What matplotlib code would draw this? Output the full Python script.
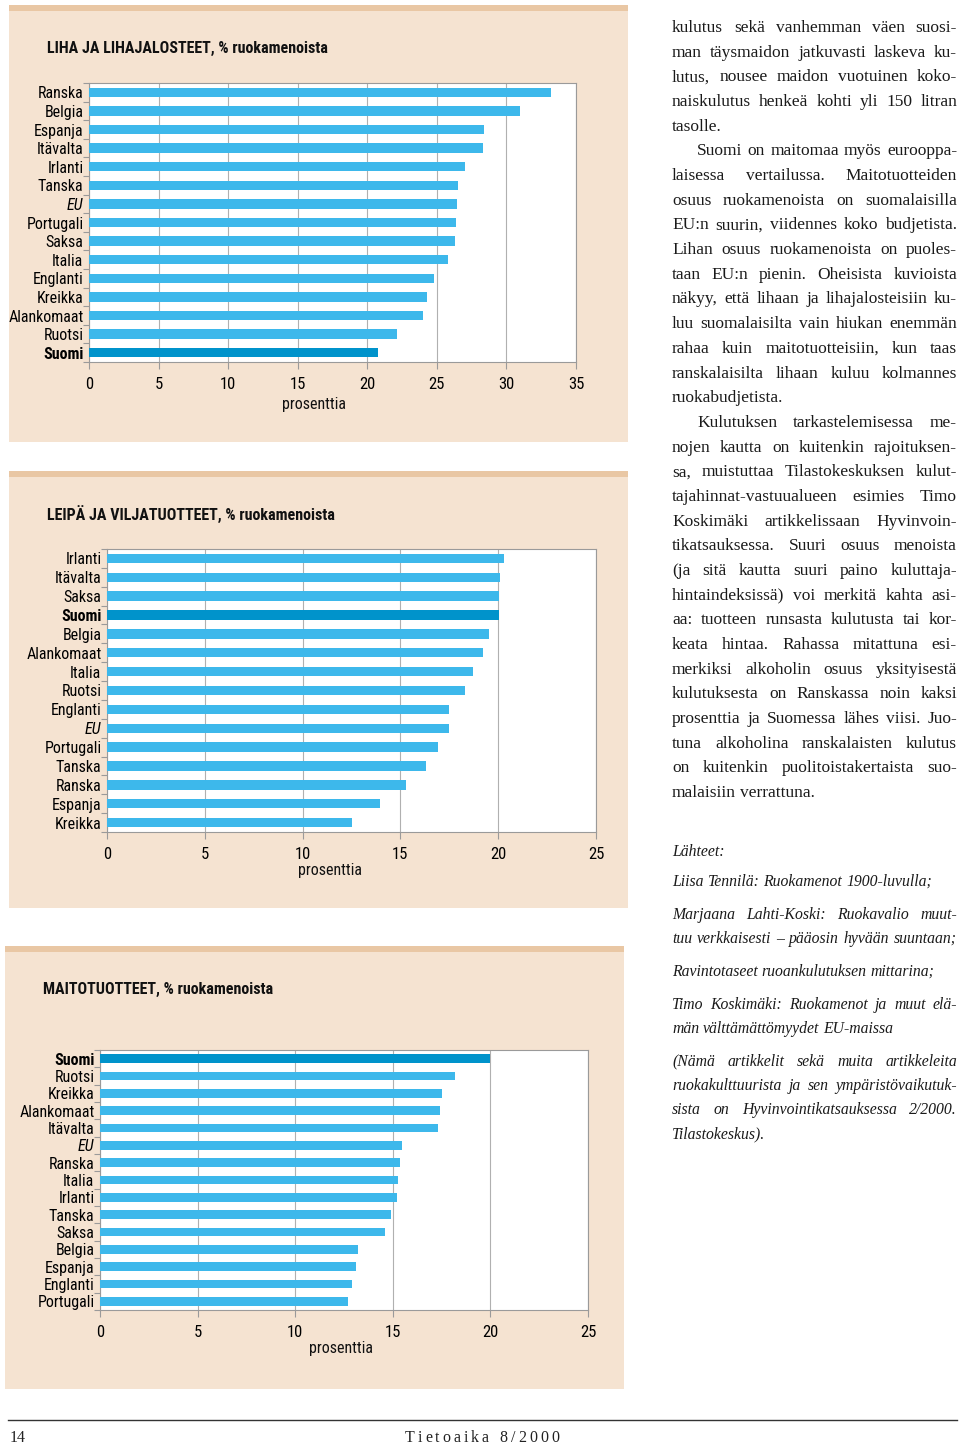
import matplotlib
matplotlib.use('Agg')
import matplotlib.pyplot as plt
from matplotlib.patches import Rectangle
from matplotlib import font_manager as fm
import numpy as np

W, H = 960, 1445
fig = plt.figure(figsize=(9.6, 14.45), dpi=100)
fig.patch.set_facecolor('white')

BG = '#F5E3D1'
STRIPE = '#E9C7A4'
BAR = '#3DB8EB'
FIN = '#0093CB'
SPINE = '#9A9A9A'
SERIF = ['Liberation Serif', 'DejaVu Serif']

# ---------------- data ----------------
meat_countries = ['Ranska', 'Belgia', 'Espanja', 'Itävalta', 'Irlanti', 'Tanska', 'EU',
                  'Portugali', 'Saksa', 'Italia', 'Englanti', 'Kreikka', 'Alankomaat',
                  'Ruotsi', 'Suomi']
meat_values = [33.2, 31.0, 28.4, 28.3, 27.05, 26.5, 26.45, 26.4, 26.3, 25.8, 24.8, 24.3,
               24.0, 22.1, 20.75]

bread_countries = ['Irlanti', 'Itävalta', 'Saksa', 'Suomi', 'Belgia', 'Alankomaat', 'Italia',
                   'Ruotsi', 'Englanti', 'EU', 'Portugali', 'Tanska', 'Ranska', 'Espanja',
                   'Kreikka']
bread_values = [20.3, 20.1, 20.05, 20.05, 19.55, 19.2, 18.7, 18.3, 17.5, 17.5, 16.9, 16.3,
                15.3, 13.95, 12.5]

dairy_countries = ['Suomi', 'Ruotsi', 'Kreikka', 'Alankomaat', 'Itävalta', 'EU', 'Ranska',
                   'Italia', 'Irlanti', 'Tanska', 'Saksa', 'Belgia', 'Espanja', 'Englanti',
                   'Portugali']
dairy_values = [20.0, 18.2, 17.5, 17.4, 17.3, 15.45, 15.35, 15.25, 15.2, 14.9, 14.6, 13.2,
                13.1, 12.9, 12.7]

titles = ['LIHA JA LIHAJALOSTEET, % ruokamenoista',
          'LEIPÄ JA VILJATUOTTEET, % ruokamenoista',
          'MAITOTUOTTEET, % ruokamenoista']
xlabel = 'prosenttia'
xmaxes = [35, 25, 25]

body_lines = [
    ('kulutus sekä vanhemman väen suosi-', False, True),
    ('man täysmaidon jatkuvasti laskeva ku-', False, True),
    ('lutus, nousee maidon vuotuinen koko-', False, True),
    ('naiskulutus henkeä kohti yli 150 litran', False, True),
    ('tasolle.', False, False),
    ('Suomi on maitomaa myös eurooppa-', True, True),
    ('laisessa vertailussa. Maitotuotteiden', False, True),
    ('osuus ruokamenoista on suomalaisilla', False, True),
    ('EU:n suurin, viidennes koko budjetista.', False, True),
    ('Lihan osuus ruokamenoista on puoles-', False, True),
    ('taan EU:n pienin. Oheisista kuvioista', False, True),
    ('näkyy, että lihaan ja lihajalosteisiin ku-', False, True),
    ('luu suomalaisilta vain hiukan enemmän', False, True),
    ('rahaa kuin maitotuotteisiin, kun taas', False, True),
    ('ranskalaisilta lihaan kuluu kolmannes', False, True),
    ('ruokabudjetista.', False, False),
    ('Kulutuksen tarkastelemisessa me-', True, True),
    ('nojen kautta on kuitenkin rajoituksen-', False, True),
    ('sa, muistuttaa Tilastokeskuksen kulut-', False, True),
    ('tajahinnat-vastuualueen esimies Timo', False, True),
    ('Koskimäki artikkelissaan Hyvinvoin-', False, True),
    ('tikatsauksessa. Suuri osuus menoista', False, True),
    ('(ja sitä kautta suuri paino kuluttaja-', False, True),
    ('hintaindeksissä) voi merkitä kahta asi-', False, True),
    ('aa: tuotteen runsasta kulutusta tai kor-', False, True),
    ('keata hintaa. Rahassa mitattuna esi-', False, True),
    ('merkiksi alkoholin osuus yksityisestä', False, True),
    ('kulutuksesta on Ranskassa noin kaksi', False, True),
    ('prosenttia ja Suomessa lähes viisi. Juo-', False, True),
    ('tuna alkoholina ranskalaisten kulutus', False, True),
    ('on kuitenkin puolitoistakertaista suo-', False, True),
    ('malaisiin verrattuna.', False, False),
]

source_lines = [
    ('Lähteet:', 851, False),
    ('Liisa Tennilä: Ruokamenot 1900-luvulla;', 881, False),
    ('Marjaana Lahti-Koski: Ruokavalio muut-', 914, True),
    ('tuu verkkaisesti – pääosin hyvään suuntaan;', 938, True),
    ('Ravintotaseet ruoankulutuksen mittarina;', 971, False),
    ('Timo Koskimäki: Ruokamenot ja muut elä-', 1004, True),
    ('män välttämättömyydet EU-maissa', 1028, False),
    ('(Nämä artikkelit sekä muita artikkeleita', 1061, True),
    ('ruokakulttuurista ja sen ympäristövaikutuk-', 1085, True),
    ('sista on Hyvinvointikatsauksessa 2/2000.', 1109, True),
    ('Tilastokeskus).', 1133, False),
]

# ---------------- font choice for chart text (condensed if available) ----------------
names = {f.name for f in fm.fontManager.ttflist}
cands = ['Liberation Sans Narrow', 'Roboto Condensed', 'Noto Sans Condensed',
         'DejaVu Sans Condensed', 'Open Sans Condensed', 'Arial Narrow']
chosen = next((c for c in cands if c in names), None)
if chosen is None:
    others = sorted(n for n in names if ('Condensed' in n or 'Narrow' in n) and 'CJK' not in n)
    chosen = others[0] if others else None
STRETCH = 'normal'
if chosen is None:
    for f in fm.fontManager.ttflist:
        if f.name in ('Noto Sans', 'DejaVu Sans', 'Open Sans') and str(f.stretch) in ('condensed', 'semi-condensed', '75', '87.5'):
            chosen = f.name
            STRETCH = 'condensed'
            break
if chosen is None:
    chosen = 'Roboto'
    LAB_FS, TITLE_FS, TICK_FS, XL_FS = 10.5, 10.5, 10.5, 10.5
else:
    LAB_FS, TITLE_FS, TICK_FS, XL_FS = 11.5, 11.5, 12, 11.5
NARROW = [chosen, 'DejaVu Sans']

# ---------------- helpers ----------------
def fx(x):
    return x / W

def fy(y):
    return 1 - y / H

def rect(l, t, r, b, color, z=0):
    fig.add_artist(Rectangle((fx(l), fy(b)), (r - l) / W, (b - t) / H,
                             transform=fig.transFigure, facecolor=color,
                             edgecolor='none', zorder=z))

renderer = fig.canvas.get_renderer()

def text_width(s, **kw):
    t = fig.text(0, 0, s, **kw)
    w = t.get_window_extent(renderer).width
    t.remove()
    return w

# ---------------- panels ----------------
panels = [
    dict(c=meat_countries, v=meat_values, panel=(9, 5, 628, 442), axes=(89, 83, 576, 362),
         title_xy=(47, 48), xlabel_xy=(314, 404)),
    dict(c=bread_countries, v=bread_values, panel=(9, 471, 628, 908), axes=(107, 549, 596, 832),
         title_xy=(47, 514), xlabel_xy=(330, 870)),
    dict(c=dairy_countries, v=dairy_values, panel=(5, 946, 624, 1389), axes=(100, 1050, 588, 1310),
         title_xy=(43, 989), xlabel_xy=(341, 1349)),
]

for i, p in enumerate(panels):
    l, t, r, b = p['panel']
    rect(l, t, r, b, BG, 0)
    rect(l, t, r, t + 6, STRIPE, 0)
    al, at, ar, ab = p['axes']
    ax = fig.add_axes([fx(al), fy(ab), (ar - al) / W, (ab - at) / H])
    ax.set_facecolor('white')
    n = len(p['c'])
    y = np.arange(n)
    colors = [FIN if c == 'Suomi' else BAR for c in p['c']]
    ax.barh(y, p['v'], height=0.5, color=colors, zorder=3)
    ax.set_ylim(n - 0.5, -0.5)
    xm = xmaxes[i]
    ax.set_xlim(0, xm)
    ax.set_xticks(np.arange(0, xm + 1, 5))
    ax.xaxis.grid(True, color='#B0B0B0', linewidth=0.8, zorder=0)
    ax.set_axisbelow(True)
    ax.set_yticks(y)
    ax.set_yticklabels(p['c'], family=NARROW, fontsize=LAB_FS, stretch=STRETCH)
    for lab in ax.get_yticklabels():
        if lab.get_text() == 'Suomi':
            lab.set_fontweight('bold')
        if lab.get_text() == 'EU':
            lab.set_fontstyle('italic')
    ax.set_yticks(np.arange(-0.5, n, 1.0), minor=True)
    ax.tick_params(axis='y', which='major', length=0, pad=4)
    ax.tick_params(axis='y', which='minor', length=4, color=SPINE, width=0.8)
    ax.tick_params(axis='x', length=5, color=SPINE, width=0.8, pad=5.5, labelsize=TICK_FS)
    for lab in ax.get_xticklabels():
        lab.set_family(NARROW)
        lab.set_stretch(STRETCH)
    for s in ax.spines.values():
        s.set_color(SPINE)
        s.set_linewidth(0.8)
    fig.text(fx(p['title_xy'][0]), fy(p['title_xy'][1]), titles[i], family=NARROW,
             stretch=STRETCH, fontsize=TITLE_FS, fontweight='bold', ha='left', va='center',
             color='#111111')
    fig.text(fx(p['xlabel_xy'][0]), fy(p['xlabel_xy'][1]), xlabel, family=NARROW,
             stretch=STRETCH, fontsize=XL_FS, ha='center', va='center', color='#111111')

# ---------------- right-hand text ----------------
COL_L, COL_R = 672, 957
def place_line(s, x0, y, justify, **kw):
    words = s.split(' ')
    widths = [text_width(w, **kw) for w in words]
    space = text_width('a a', **kw) - text_width('aa', **kw)
    gap = space
    if justify and len(words) > 1:
        g = (COL_R - x0 - sum(widths)) / (len(words) - 1)
        gap = max(g, space * 0.7)
    x = x0
    for w, wd in zip(words, widths):
        fig.text(fx(x), fy(y), w, ha='left', va='baseline', **kw)
        x += wd + gap

body_kw = dict(family=SERIF, fontsize=12.5, color='#1a1a1a')
y0 = 32
for k, (s, indent, just) in enumerate(body_lines):
    place_line(s, COL_L + (25 if indent else 0), y0 + k * 24.68, just, **body_kw)

src_kw = dict(family=SERIF, fontsize=11.3, style='italic', color='#1a1a1a')
for s, yy, just in source_lines:
    place_line(s, COL_L, yy + 5, just, **src_kw)

# ---------------- footer ----------------
fig.add_artist(plt.Line2D([fx(8), fx(957)], [fy(1420), fy(1420)], transform=fig.transFigure,
                          color='#333333', linewidth=1.0))
fig.text(fx(10), fy(1442), '14', family=SERIF, fontsize=11.5, ha='left', va='baseline',
         color='#222222')
foot = 'Tietoaika 8/2000'
fk = dict(family=SERIF, fontsize=11.5, color='#222222')
cw = [text_width(ch, **fk) if ch != ' ' else 5 for ch in foot]
track = 3.0
total = sum(cw) + track * (len(foot) - 1)
x = 482 - total / 2
for ch, w in zip(foot, cw):
    if ch != ' ':
        fig.text(fx(x), fy(1442), ch, ha='left', va='baseline', **fk)
    x += w + track

fig.savefig('out.png', dpi=100, facecolor='white')
